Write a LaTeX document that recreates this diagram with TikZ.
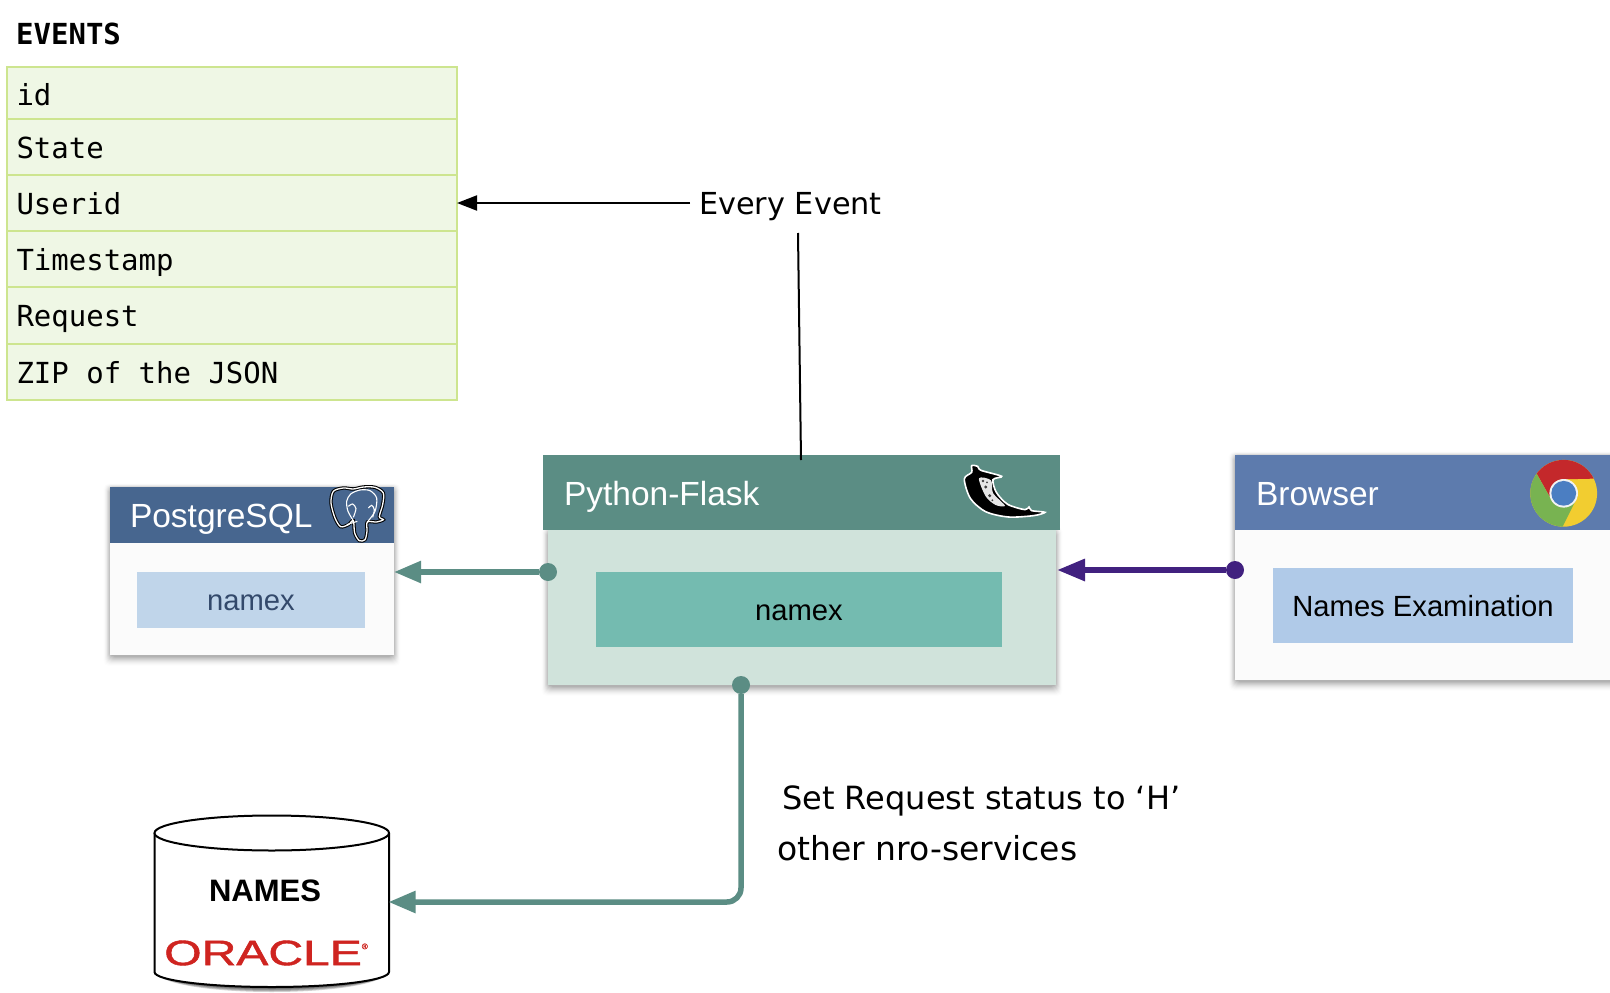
\documentclass[tikz,border=0pt]{standalone}
\usepackage{fontspec}
\setmainfont{DejaVu Sans}
\setmonofont{DejaVu Sans Mono}
\setsansfont{Liberation Sans}
\newfontfamily\oraclefont[FakeBold=1.2]{Liberation Sans}
\usetikzlibrary{arrows.meta}
\definecolor{tablefill}{HTML}{EFF7E5}
\definecolor{tableline}{HTML}{CDE58F}
\definecolor{flaskhead}{HTML}{5B8D84}
\definecolor{flaskbody}{HTML}{D0E3DB}
\definecolor{flaskinner}{HTML}{74BBB0}
\definecolor{pghead}{HTML}{47668F}
\definecolor{pginner}{HTML}{C0D5EA}
\definecolor{pgtext}{HTML}{33496B}
\definecolor{browserhead}{HTML}{5D7BAD}
\definecolor{browserinner}{HTML}{B0CAE8}
\definecolor{boxbody}{HTML}{FBFBFB}
\definecolor{linkpurple}{HTML}{41217F}
\definecolor{oraclered}{HTML}{CF2420}
\definecolor{chromered}{HTML}{C4282B}
\definecolor{chromegreen}{HTML}{78B351}
\definecolor{chromeyellow}{HTML}{F2CD30}
\definecolor{chromeblue}{HTML}{4B7EC2}
\tikzset{
  tablerow/.style={draw=tableline, line width=2pt, fill=tablefill, anchor=north west, outer sep=0pt, minimum width=450pt, text width=431pt, align=flush left, inner sep=0pt, text height=28pt, text depth=6pt, font=\ttfamily\fontsize{29}{29}\selectfont},
  boxhead/.style={anchor=north west, inner sep=0pt, outer sep=0pt, text height=25pt, text depth=0pt, font=\sffamily\fontsize{33.5}{33.5}\selectfont, text=white, align=flush left},
  boxbody/.style={anchor=north west, inner sep=0pt, outer sep=0pt, fill=boxbody},
  boxinner/.style={anchor=north west, inner sep=0pt, outer sep=0pt, text height=22pt, text depth=0pt, font=\sffamily\fontsize{29.2}{29.2}\selectfont},
  label/.style={inner sep=0pt, anchor=base west},
  tealink/.style={draw=flaskhead, line width=5.5pt, -{Triangle[length=27pt,width=21pt]}},
  purplelink/.style={draw=linkpurple, line width=6pt, -{Triangle[length=28pt,width=21pt]}},
  linkdot/.style={circle, inner sep=0pt, minimum size=18pt},
  eventlink/.style={line width=2pt},
}
% soft shadow under a box
\newcommand{\softshadow}[4]{
  \foreach \i in {1,...,10}
    \fill[black, opacity=0.006*\i, rounded corners=5pt] (#1-0.7*10+0.7*\i,#2+1-0.5*10+0.5*\i) rectangle (#3+0.7*10-0.7*\i,#4+2+1.0*10-1.0*\i);
}
\begin{document}
\begin{tikzpicture}[x=1pt, y=-1pt]
  \useasboundingbox (0,0) rectangle (1610,993);
  \fill[white] (0,0) rectangle (1610,993);

  % events table
  \node[inner sep=0pt, anchor=west, font=\ttfamily\bfseries\fontsize{29}{29}\selectfont] (eventstitle) at (16,34) {EVENTS};
  \node[tablerow, minimum height=52pt, text height=30pt] (rowid) at (7,67) {id};
  \node[tablerow, minimum height=56pt] (rowstate) at (7,119) {State};
  \node[tablerow, minimum height=56pt] (rowuser) at (7,175) {Userid};
  \node[tablerow, minimum height=56pt] (rowtime) at (7,231) {Timestamp};
  \node[tablerow, minimum height=57pt] (rowrequest) at (7,287) {Request};
  \node[tablerow, minimum height=56pt] (rowzip) at (7,344) {ZIP of the JSON};

  % postgres box
  \softshadow{110}{487}{394}{655}
  \node[boxbody, minimum width=284pt, minimum height=168pt] (pgbody) at (110,487) {};
  \node[boxhead, fill=pghead, minimum width=284pt, minimum height=56pt, text width=244pt] (pghead) at (110,487) {PostgreSQL};
  \node[boxinner, fill=pginner, text=pgtext, minimum width=228pt, minimum height=56pt, text height=20.5pt] (pgnamex) at (137,572) {namex};

  % elephant
  \begin{scope}[shift={(320,478)}, scale=0.3333]
    \draw[black, line width=3.4pt, fill=pghead] plot[smooth cycle] coordinates {(70,30) (40,40) (33,75) (45,120) (62,146) (85,140) (100,128) (104,165) (118,188) (135,185) (141,160) (142,132) (170,132) (190,125) (178,116) (188,80) (190,45) (165,28) (130,27) (100,33)};
    \draw[white, line width=1.3pt] plot[smooth cycle] coordinates {(70,30) (40,40) (33,75) (45,120) (62,146) (85,140) (100,128) (104,165) (118,188) (135,185) (141,160) (142,132) (170,132) (190,125) (178,116) (188,80) (190,45) (165,28) (130,27) (100,33)};
    \draw[white, line width=1.1pt] plot[smooth] coordinates {(100,128) (84,100) (80,70) (92,48) (120,36) (150,38) (170,60) (165,100) (142,132)};
    \draw[white, line width=1.1pt] plot[smooth] coordinates {(85,85) (98,78) (108,92) (100,118)};
    \draw[white, line width=1.1pt] plot[smooth] coordinates {(145,90) (155,82) (163,95) (158,118)};
    \draw[white, line width=1.1pt] (80,140) -- (112,130);
  \end{scope}

  % flask box
  \softshadow{548}{530}{1056}{685}
  \node[boxbody, fill=flaskbody, minimum width=508pt, minimum height=155pt] (flaskbody) at (548,530) {};
  \node[boxhead, fill=flaskhead, minimum width=517pt, minimum height=75pt, text width=475pt] (flaskhead) at (543,455) {Python-Flask};
  \node[boxinner, fill=flaskinner, minimum width=406pt, minimum height=75pt] (flasknamex) at (596,572) {namex};

  % horn
  \begin{scope}[shift={(955,455)}, scale=0.3333]
    \draw[white, line width=1.6pt, fill=black] plot[smooth cycle] coordinates {(28,72) (50,52) (50,32) (68,34) (78,46) (140,64) (114,74) (124,112) (158,148) (210,164) (222,156) (230,167) (270,172) (235,182) (160,186) (92,170) (46,130)};
    \fill[white!80!gray] plot[smooth cycle] coordinates {(72,70) (108,76) (114,114) (150,152) (122,150) (92,124)};
    \fill[black!75] (92,96) circle[radius=5] (104,122) circle[radius=5] (96,82) circle[radius=3] (112,136) circle[radius=3] (84,78) circle[radius=4];
  \end{scope}

  % browser box
  \softshadow{1235}{455}{1630}{680}
  \node[boxbody, minimum width=375pt, minimum height=225pt] (browserbody) at (1235,455) {};
  \node[boxhead, fill=browserhead, minimum width=375pt, minimum height=75pt, text width=333pt] (browserhead) at (1235,455) {Browser};
  \node[boxinner, fill=browserinner, minimum width=300pt, minimum height=75pt] (browserinner) at (1273,568) {Names Examination};

  % chrome
  \begin{scope}[shift={(1563.7,493.3)}]
    \fill[chromeyellow] (0,0) circle[radius=33.4];
    \fill[chromered] (216:33.4) arc[start angle=216, end angle=334, radius=33.4] -- (0,-14) -- (-12,7) -- cycle;
    \fill[chromegreen] (216:33.4) arc[start angle=216, end angle=92, radius=33.4] -- (14,3) -- (-12,7) -- cycle;
    \fill[white!90!gray] (0,0) circle[radius=14.3];
    \fill[chromeblue] (0,0) circle[radius=12.4];
  \end{scope}

  % cylinder
  \foreach \i in {1,...,5}
    \fill[black, opacity=0.18] (157,972) arc[start angle=180, end angle=0, x radius=114.75, y radius=15+\i];
  \draw[line width=2pt, fill=white] (154.5,833) -- (154.5,972) arc[start angle=180, end angle=0, x radius=117.25, y radius=15] -- (389,833);
  \draw[line width=2pt, fill=white] (271.75,833) ellipse[x radius=117.25, y radius=17.5];
  \node[inner sep=0pt, font=\sffamily\bfseries\fontsize{31}{31}\selectfont] (names) at (265,891) {NAMES};
  \node[inner sep=0pt, text=oraclered, font=\oraclefont\fontsize{31}{31}\selectfont] (oracle) at (266,953) {\scalebox{1.55}[1.14]{ORACLE}\raisebox{16pt}{\fontsize{8}{8}\selectfont\textregistered}};
  \coordinate (namesin) at (388.5,902);

  % labels
  \node[label, font=\fontsize{30.3}{30.3}\selectfont] (everyevent) at (699,214) {Every Event};
  \node[label, font=\fontsize{32}{32}\selectfont] (setstatus) at (782,809) {Set Request status to ‘H’};
  \node[label, font=\fontsize{33}{33}\selectfont] (otherservices) at (777,860) {other nro-services};

  % dots
  \node[linkdot, fill=flaskhead] (flaskleft) at (548,572) {};
  \node[linkdot, fill=flaskhead] (flaskbottom) at (741,685) {};
  \node[linkdot, fill=linkpurple] (browserleft) at (1235,570) {};
  \coordinate (flaskright) at (1057,570);
  \coordinate (eventleft) at (690,203);
  \coordinate (eventlow) at (798,233);
  \coordinate (flasktop) at (801,460);

  % connectors
  \draw[tealink] (flaskleft) -- (pgbody.east |- flaskleft);
  \draw[purplelink] (browserleft) -- (flaskright);
  \draw[tealink, rounded corners=14pt] (flaskbottom) -- (741,902) -- (namesin);
  \draw[eventlink, -{Triangle[length=20pt,width=15pt]}] (eventleft) -- (rowuser.east);
  \draw[eventlink] (eventlow) -- (flasktop);

\end{tikzpicture}
\end{document}
